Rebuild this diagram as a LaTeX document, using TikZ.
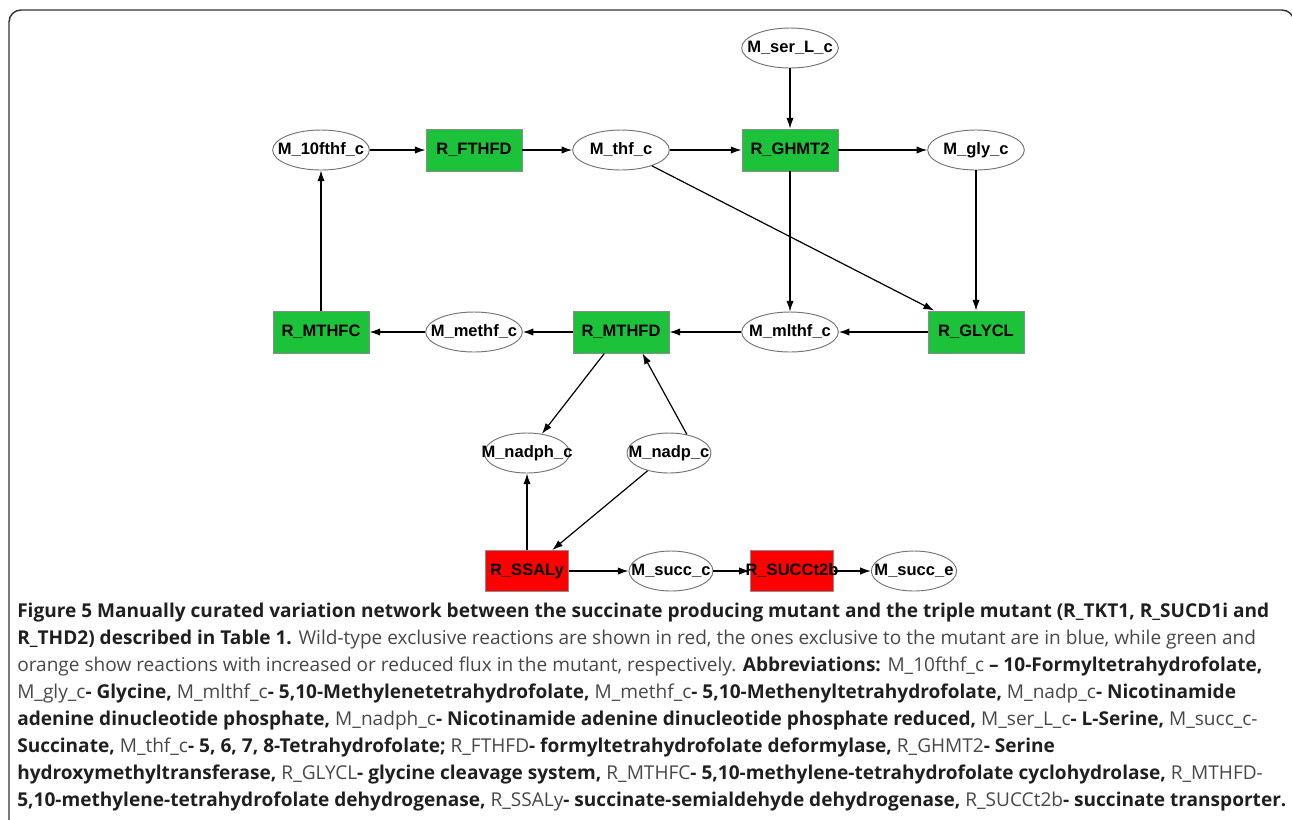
\documentclass[tikz,border=0pt]{standalone}
\usepackage{fontspec}
\newfontfamily\netfont{Liberation Sans}
\newfontfamily\capfont{Open Sans}
\usetikzlibrary{shapes.geometric,arrows.meta}
\newcommand\lite[1]{{\mdseries\color{black!72}#1}}

\begin{document}
\begin{tikzpicture}[x=0.75pt,y=-0.75pt,
  met/.style={ellipse,draw=black!55,fill=white,line width=0.7pt,inner xsep=-12pt,inner ysep=-3pt,
    minimum width=72.5pt,minimum height=30pt,font=\netfont\bfseries\fontsize{12.4}{14}\selectfont},
  rxn/.style={rectangle,draw=black!45,fill=upgreen,line width=0.7pt,inner sep=0pt,
    minimum width=72pt,minimum height=31.5pt,font=\netfont\bfseries\fontsize{12.4}{14}\selectfont},
  ko/.style={rxn,fill=wtred,inner xsep=-4pt,minimum width=62.5pt,minimum height=30.75pt},
  flux/.style={-{Latex[length=8pt,width=5.5pt]},line width=0.9pt}]
 \definecolor{upgreen}{HTML}{1CC23A}
 \definecolor{wtred}{HTML}{FF0000}
 \useasboundingbox (0,0) rectangle (1292,819);
 \draw [black!80,line width=1.1pt,rounded corners=9pt] (9,10) rectangle (1294,850);
 % metabolites and reactions
 \node [met] (serL) at (790,48) {M\_ser\_L\_c};
 \node [met] (fthf) at (321,150) {M\_10fthf\_c};
 \node [rxn] (FTHFD) at (474,150) {R\_FTHFD};
 \node [met] (thf) at (621,150) {M\_thf\_c};
 \node [rxn] (GHMT2) at (790,150) {R\_GHMT2};
 \node [met] (gly) at (976,150) {M\_gly\_c};
 \node [rxn] (MTHFC) at (321,332) {R\_MTHFC};
 \node [met] (methf) at (474,332) {M\_methf\_c};
 \node [rxn] (MTHFD) at (621,332) {R\_MTHFD};
 \node [met] (mlthf) at (790,332) {M\_mlthf\_c};
 \node [rxn] (GLYCL) at (976,332) {R\_GLYCL};
 \node [met,minimum width=64pt] (nadph) at (527,453) {M\_nadph\_c};
 \node [met,minimum width=63pt] (nadp) at (669,453) {M\_nadp\_c};
 \node [ko] (SSALy) at (527,571) {R\_SSALy};
 \node [met,minimum width=63pt] (succc) at (671,571) {M\_succ\_c};
 \node [ko] (SUCCt2b) at (792,571) {R\_SUCCt2b};
 \node [met,minimum width=64pt] (succe) at (914,571) {M\_succ\_e};
 % fluxes
 \draw [flux] (serL) -- (GHMT2);
 \draw [flux] (fthf) -- (FTHFD);
 \draw [flux] (FTHFD) -- (thf);
 \draw [flux] (thf) -- (GHMT2);
 \draw [flux] (GHMT2) -- (gly);
 \draw [flux] (thf) -- (GLYCL);
 \draw [flux] (GHMT2) -- (mlthf);
 \draw [flux] (gly) -- (GLYCL);
 \draw [flux] (GLYCL) -- (mlthf);
 \draw [flux] (mlthf) -- (MTHFD);
 \draw [flux] (MTHFD) -- (methf);
 \draw [flux] (methf) -- (MTHFC);
 \draw [flux] (MTHFC) -- (fthf);
 \draw [flux] (MTHFD) -- (nadph);
 \draw [flux] (nadp.46) -- (MTHFD.-45);
 \draw [flux] (SSALy) -- (nadph);
 \draw [flux] (nadp) -- (SSALy);
 \draw [flux] (SSALy) -- (succc);
 \draw [flux] (succc) -- (SUCCt2b);
 \draw [flux] (SUCCt2b) -- (succe);
 % caption
 \node [anchor=north west,inner sep=0pt,align=left,text=black!88,
   font=\capfont\bfseries\fontsize{14.3}{20.25}\selectfont] (caption) at (17,603)
 {Figure 5 Manually curated variation network between the succinate producing mutant and the triple mutant (R\_TKT1, R\_SUCD1i and\\
 R\_THD2) described in Table 1. \lite{Wild-type exclusive reactions are shown in red, the ones exclusive to the mutant are in blue, while green and}\\
 \lite{orange show reactions with increased or reduced flux in the mutant, respectively.} Abbreviations: \lite{M\_10fthf\_c} – 10-Formyltetrahydrofolate,\\
 \lite{M\_gly\_c}- Glycine, \lite{M\_mlthf\_c}- 5,10-Methylenetetrahydrofolate, \lite{M\_methf\_c}- 5,10-Methenyltetrahydrofolate, \lite{M\_nadp\_c}- Nicotinamide\\
 adenine dinucleotide phosphate, \lite{M\_nadph\_c}- Nicotinamide adenine dinucleotide phosphate reduced, \lite{M\_ser\_L\_c}- L-Serine, \lite{M\_succ\_c-}\\
 Succinate, \lite{M\_thf\_c}- 5, 6, 7, 8-Tetrahydrofolate; \lite{R\_FTHFD}- formyltetrahydrofolate deformylase, \lite{R\_GHMT2}- Serine\\
 hydroxymethyltransferase, \lite{R\_GLYCL}- glycine cleavage system, \lite{R\_MTHFC}- 5,10-methylene-tetrahydrofolate cyclohydrolase, \lite{R\_MTHFD-}\\
 5,10-methylene-tetrahydrofolate dehydrogenase, \lite{R\_SSALy}- succinate-semialdehyde dehydrogenase, \lite{R\_SUCCt2b}- succinate transporter.};
\end{tikzpicture}
\end{document}
